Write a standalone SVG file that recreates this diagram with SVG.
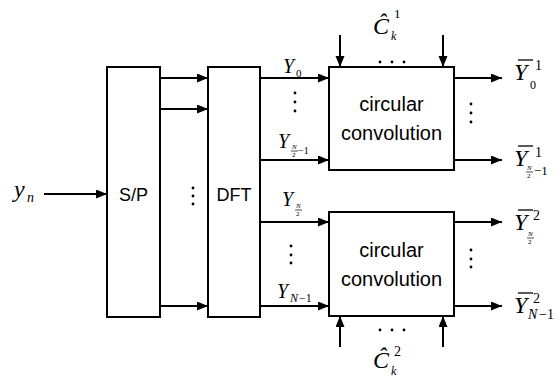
<svg xmlns="http://www.w3.org/2000/svg" width="560" height="377" viewBox="0 0 560 377">
<style>
.box{fill:#fff;stroke:#000;stroke-width:2}
.ln{stroke:#000;stroke-width:2;fill:none}
.bar{stroke:#000;stroke-width:1.3}
.fb{stroke:#000;stroke-width:0.7}
.sans{font-family:"Liberation Sans",Arial,sans-serif;fill:#000}
.m{font-family:"Liberation Serif","DejaVu Serif",serif;font-style:italic;fill:#000}
.r{font-family:"Liberation Serif","DejaVu Serif",serif;fill:#000}
.dot{fill:#000}
</style>
<defs>
<marker id="ah" markerUnits="userSpaceOnUse" markerWidth="12" markerHeight="10" refX="11" refY="4.5" orient="auto">
<path d="M0,0 L11,4.5 L0,9 z" fill="#000"/>
</marker>
</defs>
<g id="connectors">
<line class="ln" x1="44" y1="194" x2="107" y2="194" marker-end="url(#ah)"/>
<line class="ln" x1="160" y1="78" x2="208" y2="78" marker-end="url(#ah)"/>
<line class="ln" x1="160" y1="109" x2="208" y2="109" marker-end="url(#ah)"/>
<line class="ln" x1="160" y1="306" x2="208" y2="306" marker-end="url(#ah)"/>
<line class="ln" x1="260" y1="78" x2="329" y2="78" marker-end="url(#ah)"/>
<line class="ln" x1="260" y1="160" x2="329" y2="160" marker-end="url(#ah)"/>
<line class="ln" x1="260" y1="222" x2="329" y2="222" marker-end="url(#ah)"/>
<line class="ln" x1="260" y1="306" x2="329" y2="306" marker-end="url(#ah)"/>
<line class="ln" x1="454" y1="78" x2="502" y2="78" marker-end="url(#ah)"/>
<line class="ln" x1="454" y1="160" x2="502" y2="160" marker-end="url(#ah)"/>
<line class="ln" x1="454" y1="222" x2="502" y2="222" marker-end="url(#ah)"/>
<line class="ln" x1="454" y1="306" x2="502" y2="306" marker-end="url(#ah)"/>
<line class="ln" x1="340" y1="35" x2="340" y2="67" marker-end="url(#ah)"/>
<line class="ln" x1="443" y1="35" x2="443" y2="67" marker-end="url(#ah)"/>
<line class="ln" x1="340" y1="347" x2="340" y2="316" marker-end="url(#ah)"/>
<line class="ln" x1="443" y1="347" x2="443" y2="316" marker-end="url(#ah)"/>
</g>
<g id="sp">
<rect class="box" x="107" y="67" width="53" height="250"/>
<text class="sans" x="133.5" y="201" font-size="18" text-anchor="middle">S/P</text>
</g>
<g id="dft">
<rect class="box" x="208" y="67" width="52" height="250"/>
<text class="sans" x="234" y="201" font-size="18" text-anchor="middle">DFT</text>
</g>
<g id="conv1">
<rect class="box" x="329" y="67" width="125" height="103"/>
<text class="sans" x="391.5" y="111" font-size="20" text-anchor="middle">circular</text>
<text class="sans" x="391.5" y="140" font-size="20" text-anchor="middle">convolution</text>
</g>
<g id="conv2">
<rect class="box" x="329" y="212" width="125" height="104"/>
<text class="sans" x="391.5" y="257" font-size="20" text-anchor="middle">circular</text>
<text class="sans" x="391.5" y="286" font-size="20" text-anchor="middle">convolution</text>
</g>
<g id="labels">
<text class="m" x="14" y="197" font-size="24">y</text>
<text class="m" x="27" y="202" font-size="14">n</text>
<circle class="dot" cx="193" cy="188" r="1.4"/><circle class="dot" cx="193" cy="196" r="1.4"/><circle class="dot" cx="193" cy="204" r="1.4"/>
<text class="m" x="283" y="73" font-size="20">Y</text>
<text class="r" x="296" y="77" font-size="11">0</text>
<circle class="dot" cx="295" cy="93" r="1.4"/><circle class="dot" cx="295" cy="102" r="1.4"/><circle class="dot" cx="295" cy="111" r="1.4"/>
<text class="m" x="278" y="148" font-size="20">Y</text>
<text class="m" x="292" y="149" font-size="7">N</text>
<line class="fb" x1="291" y1="151" x2="298" y2="151"/>
<text class="r" x="292" y="157" font-size="7">2</text>
<text class="r" x="298" y="154" font-size="10">−1</text>
<text class="m" x="282" y="206" font-size="20">Y</text>
<text class="m" x="296" y="208" font-size="7">N</text>
<line class="fb" x1="295" y1="210" x2="302" y2="210"/>
<text class="r" x="296" y="216" font-size="7">2</text>
<circle class="dot" cx="291" cy="246" r="1.4"/><circle class="dot" cx="291" cy="255" r="1.4"/><circle class="dot" cx="291" cy="263" r="1.4"/>
<text class="m" x="277" y="298" font-size="20">Y</text>
<text class="m" x="290" y="302" font-size="12">N</text>
<text class="r" x="299" y="302" font-size="12">−1</text>
<circle class="dot" cx="471" cy="104" r="1.4"/><circle class="dot" cx="471" cy="113" r="1.4"/><circle class="dot" cx="471" cy="122" r="1.4"/>
<circle class="dot" cx="471" cy="250" r="1.4"/><circle class="dot" cx="471" cy="259" r="1.4"/><circle class="dot" cx="471" cy="267" r="1.4"/>
<line class="bar" x1="518" y1="60" x2="533" y2="60"/>
<text class="m" x="514" y="80" font-size="24">Y</text>
<text class="r" x="535" y="70" font-size="14">1</text>
<text class="r" x="530" y="89" font-size="12">0</text>
<line class="bar" x1="518" y1="146" x2="533" y2="146"/>
<text class="m" x="514" y="166" font-size="24">Y</text>
<text class="r" x="535" y="157" font-size="14">1</text>
<text class="m" x="527" y="170" font-size="7">N</text>
<line class="fb" x1="526" y1="172" x2="533" y2="172"/>
<text class="r" x="527" y="178" font-size="7">2</text>
<text class="r" x="534" y="175" font-size="13">−1</text>
<line class="bar" x1="518" y1="210" x2="533" y2="210"/>
<text class="m" x="514" y="230" font-size="24">Y</text>
<text class="r" x="533" y="220" font-size="14">2</text>
<text class="m" x="528" y="236" font-size="7">N</text>
<line class="fb" x1="527" y1="238" x2="534" y2="238"/>
<text class="r" x="528" y="244" font-size="7">2</text>
<line class="bar" x1="518" y1="293" x2="533" y2="293"/>
<text class="m" x="514" y="313" font-size="24">Y</text>
<text class="r" x="533" y="303" font-size="14">2</text>
<text class="m" x="528" y="319" font-size="14">N</text>
<text class="r" x="539" y="319" font-size="14">−1</text>
<text class="m" x="373" y="34" font-size="24">Ĉ</text>
<text class="r" x="394" y="18" font-size="13">1</text>
<text class="m" x="391" y="40" font-size="12">k</text>
<circle class="dot" cx="380" cy="62" r="1.4"/><circle class="dot" cx="392" cy="62" r="1.4"/><circle class="dot" cx="404" cy="62" r="1.4"/>
<circle class="dot" cx="380" cy="330" r="1.4"/><circle class="dot" cx="392" cy="330" r="1.4"/><circle class="dot" cx="404" cy="330" r="1.4"/>
<text class="m" x="373" y="368" font-size="24">Ĉ</text>
<text class="r" x="394" y="356" font-size="14">2</text>
<text class="m" x="391" y="375" font-size="12">k</text>
</g>
</svg>
